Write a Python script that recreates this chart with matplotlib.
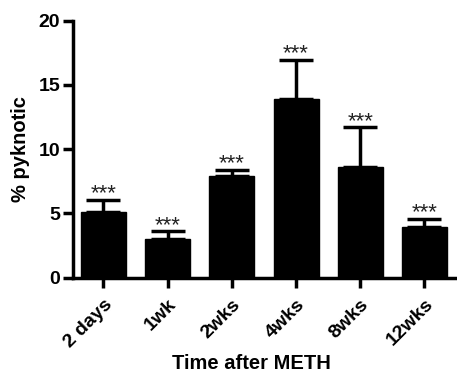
import numpy as np
import matplotlib
matplotlib.use("Agg")
from matplotlib import pyplot as plt

categories = ["2 days", "1wk", "2wks", "4wks", "8wks", "12wks"]
means = [5.15, 3.0, 7.9, 13.9, 8.65, 3.95]
err_top = [6.05, 3.6, 8.4, 16.95, 11.7, 4.6]
stars = ["***"] * 6

plt.rcParams['font.family'] = ['Liberation Sans', 'DejaVu Sans']

fig = plt.figure(figsize=(4.57, 3.73), dpi=100)
ax = fig.add_axes([0.159, 0.2555, 0.84, 0.689])

x = np.arange(len(categories))
errs = np.array(err_top) - np.array(means)
ax.bar(x, means, width=0.7, color='black', edgecolor='black', zorder=2)
ax.errorbar(x, means, yerr=[np.zeros(len(x)), errs], fmt='none', ecolor='black',
            elinewidth=2.5, capsize=12, capthick=2.5, zorder=1)
for xi, top, s in zip(x, err_top, stars):
    ax.text(xi, top - 0.35, s, ha='center', va='bottom', fontsize=16, color='#222222')

ax.set_xlim(-0.48, 5.5)
ax.set_ylim(0, 20)
ax.set_yticks([0, 5, 10, 15, 20])
ax.set_xticks(x)
ax.set_xticklabels(categories, rotation=45, ha='right', rotation_mode='anchor',
                   fontsize=14, fontweight='bold')
for lab in ax.get_yticklabels():
    lab.set_fontsize(14)
    lab.set_fontweight('bold')

for side in ['top', 'right']:
    ax.spines[side].set_visible(False)
for side in ['left', 'bottom']:
    ax.spines[side].set_linewidth(2.5)
ax.tick_params(axis='both', width=2.5, length=7, direction='out')
ax.tick_params(axis='y', pad=2)
ax.tick_params(axis='x', pad=6)

ax.set_ylabel("% pyknotic", fontsize=14.5, fontweight='bold', labelpad=6)
ax.set_xlabel("Time after METH", fontsize=14.5, fontweight='bold')
ax.xaxis.set_label_coords(0.466, -0.295)
ax.xaxis.label.set_va('top')

fig.savefig("out.png", dpi=100)
